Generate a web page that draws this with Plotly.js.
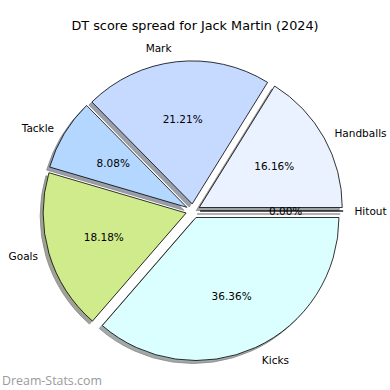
<!DOCTYPE html>
<html>
<head>
<meta charset="utf-8">
<script src="https://cdn.plot.ly/plotly-3.0.1.min.js"></script>
<style>html,body{margin:0;padding:0;background:#fff;}#chart{width:390px;height:390px;}</style>
</head>
<body>
<div id="chart"></div>
<script>
// Data
var labels = ['Handballs', 'Mark', 'Tackle', 'Goals', 'Kicks', 'Hitout'];
var values = [16, 21, 8, 18, 36, 0];
var titleText = 'DT score spread for Jack Martin (2024)';
var watermark = 'Dream-Stats.com';

// Styles
var colors = ['#eaf2ff', '#c6d9ff', '#b4d7ff', '#d0eb8c', '#dbffff', '#eaf2ff'];
var shadowColors = ['#a0a3a8', '#9aa1ad', '#989fab', '#9fa395', '#a1a9a9', '#a0a3a8'];

// slices are laid clockwise from 3 o'clock in reverse order, which equals
// counterclockwise from 3 o'clock in the original order
function rev(a) { return a.slice().reverse(); }
var L = rev(labels), V = rev(values);
var total = V.reduce(function(s, v){ return s + v; }, 0);

var W = 390, H = 390;
var cx = 193, cy = 211;      // pie centre in px
var R = 143;                 // radius px
var pull = 0.05;
var pctDist = 0.6;           // where the percentages sit (fraction of R)
function dom(x0, y0, h) {
  return {x: [(x0 - h) / W, (x0 + h) / W], y: [(H - y0 - h) / H, (H - y0 + h) / H]};
}
function fill(n, v) { var a = []; for (var i = 0; i < n; i++) a.push(v); return a; }
var clear = fill(L.length, 'rgba(0,0,0,0)');
var font = {family: 'DejaVu Sans', size: 10.5, color: '#000'};

var common = {type: 'pie', labels: L, values: V, sort: false,
  direction: 'clockwise', rotation: 90, showlegend: false, hoverinfo: 'skip'};
function pie(extra) { return Object.assign({}, common, extra); }

var traces = [];
// outer category labels
var lblR = R * (1.1 + pull) - 6;
traces.push(pie({
  domain: dom(cx, cy, lblR),
  marker: {colors: clear, line: {width: 0}},
  text: L, textinfo: 'text', textposition: 'outside', outsidetextfont: font
}));
// shadow
traces.push(pie({
  pull: fill(L.length, pull), domain: dom(cx - 3, cy + 3, R * (1 + pull)),
  marker: {colors: rev(shadowColors), line: {color: '#888', width: 0.8}},
  textinfo: 'none'
}));
// slices
traces.push(pie({
  pull: fill(L.length, pull), domain: dom(cx, cy, R * (1 + pull)),
  marker: {colors: rev(colors), line: {color: '#000', width: 0.8}},
  textinfo: 'none'
}));
// percentage texts: one clear overlay per slice, sized so that the text
// centre lands at pctDist * R from the pulled slice centre
V.forEach(function(v, i) {
  var tmpl = fill(L.length, '');
  tmpl[i] = '%{percent:.2%}';
  var r, pos;
  if (v > 0) {
    var half = Math.PI * Math.min(v / total, 0.5);
    var ins = Math.min(1 / (1 + 1 / Math.sin(half)), 0.5);
    r = pctDist * R / (1 - ins);
    pos = 'inside';
  } else {
    r = pctDist * R - 20;
    pos = 'outside';
  }
  var p = pull * R / r;
  traces.push(pie({
    pull: fill(L.length, p), domain: dom(cx, cy, r * (1 + p)),
    marker: {colors: clear, line: {width: 0}},
    texttemplate: tmpl, textposition: pos, insidetextorientation: 'horizontal',
    insidetextfont: font, outsidetextfont: font
  }));
});

var layout = {
  width: W, height: H,
  margin: {l: 0, r: 0, t: 0, b: 0},
  paper_bgcolor: '#fff',
  showlegend: false,
  uniformtext: {minsize: 10.5, mode: 'show'},
  title: {text: titleText, font: {family: 'DejaVu Sans', size: 12.8, color: '#000'},
          x: 0.5, xanchor: 'center', y: 1 - 26 / H, yanchor: 'middle', yref: 'container'},
  annotations: [{
    text: watermark, xref: 'paper', yref: 'paper', x: 0, y: 1 - 380 / H,
    xanchor: 'left', yanchor: 'middle', showarrow: false,
    font: {family: 'Open Sans', size: 12.4, color: '#9a9a9a'}
  }]
};
Plotly.newPlot('chart', traces, layout, {staticPlot: true});
</script>
</body>
</html>
